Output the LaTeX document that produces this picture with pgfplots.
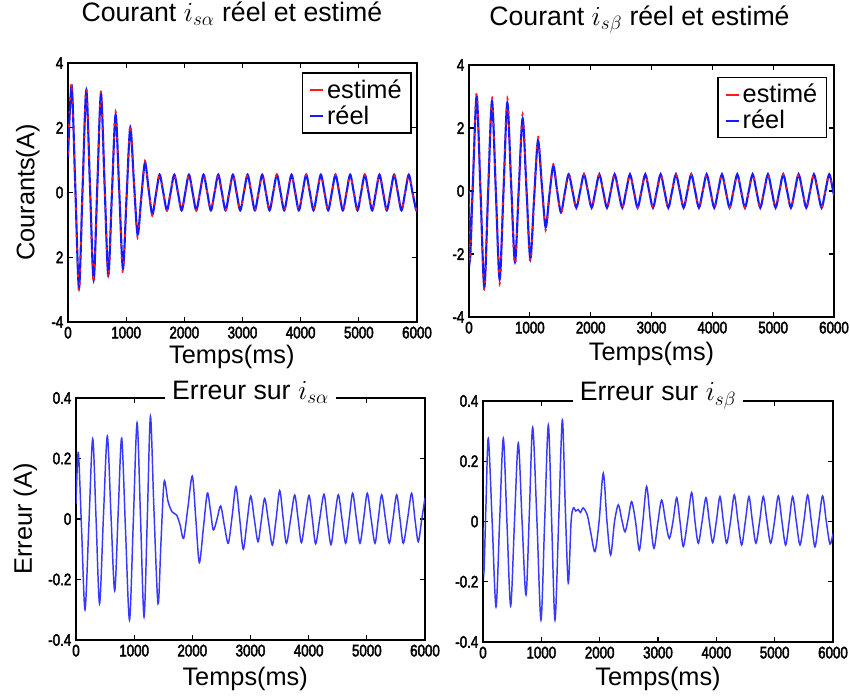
\documentclass[border=0pt]{standalone}
\usepackage{fontspec}
\setmainfont{Liberation Sans}
\newfontfamily\tickfont[FakeStretch=0.8,FakeBold=2.5]{Liberation Sans}
\usepackage{pgfplots}
\pgfplotsset{compat=1.18}
\usepackage{pgfplotstable}

\definecolor{lblue}{rgb}{0.1,0.1,1.0}
\definecolor{bblue}{rgb}{0.22,0.22,1.0}
\definecolor{ered}{rgb}{1.0,0.1,0.1}

\pgfplotstableread[row sep=\\]{
t b r\\
0 1.1 1.2\\ 63 3.3 3.45\\ 126 0.15 0.15\\ 189 -2.95 -3.1\\ 252 0.2 0.2\\ 315 3.15 3.25\\ 378 0.2 0.2\\ 441 -2.7 -2.85\\
504 0.2 0.2\\ 567 3.05 3.15\\ 630 0.2 0.2\\ 693 -2.55 -2.7\\ 756 0 0\\ 819 2.4 2.5\\ 882 0 0\\ 945 -2.35 -2.5\\
1008 -0.1 -0.1\\ 1071 2.0 2.15\\ 1134 0.3 0.3\\ 1197 -1.3 -1.4\\ 1260 -0.15 -0.15\\ 1323 0.92 0.98\\ 1386 0.1 0.1\\ 1449 -0.68 -0.72\\
1512 -0.05 -0.05\\ 1575 0.55 0.56\\ 1638 0 0\\ 1701 -0.55 -0.55\\
1764 0 0\\ 1827 0.55 0.55\\ 1890 0 0\\ 1953 -0.55 -0.55\\ 2016 0 0\\ 2079 0.55 0.55\\ 2142 0 0\\ 2205 -0.55 -0.55\\
2268 0 0\\ 2331 0.55 0.55\\ 2394 0 0\\ 2457 -0.55 -0.55\\ 2520 0 0\\ 2583 0.55 0.55\\ 2646 0 0\\ 2709 -0.55 -0.55\\
2772 0 0\\ 2835 0.55 0.55\\ 2898 0 0\\ 2961 -0.55 -0.55\\ 3024 0 0\\ 3087 0.55 0.55\\ 3150 0 0\\ 3213 -0.55 -0.55\\
3276 0 0\\ 3339 0.55 0.55\\ 3402 0 0\\ 3465 -0.55 -0.55\\ 3528 0 0\\ 3591 0.55 0.55\\ 3654 0 0\\ 3717 -0.55 -0.55\\
3780 0 0\\ 3843 0.55 0.55\\ 3906 0 0\\ 3969 -0.55 -0.55\\ 4032 0 0\\ 4095 0.55 0.55\\ 4158 0 0\\ 4221 -0.55 -0.55\\
4284 0 0\\ 4347 0.55 0.55\\ 4410 0 0\\ 4473 -0.55 -0.55\\ 4536 0 0\\ 4599 0.55 0.55\\ 4662 0 0\\ 4725 -0.55 -0.55\\
4788 0 0\\ 4851 0.55 0.55\\ 4914 0 0\\ 4977 -0.55 -0.55\\ 5040 0 0\\ 5103 0.55 0.55\\ 5166 0 0\\ 5229 -0.55 -0.55\\
5292 0 0\\ 5355 0.55 0.55\\ 5418 0 0\\ 5481 -0.55 -0.55\\ 5544 0 0\\ 5607 0.55 0.55\\ 5670 0 0\\ 5733 -0.55 -0.55\\
5796 0 0\\ 5859 0.55 0.55\\ 5922 0 0\\ 5985 -0.55 -0.55\\ 6000 -0.52 -0.52\\
}\tla

\pgfplotstableread[row sep=\\]{
t b r\\
0 0 0\\ 15 -2.2 -2.3\\ 63 0.2 0.2\\ 126 3.0 3.15\\ 189 0 0\\ 252 -3.05 -3.2\\ 315 0 0\\ 378 2.85 3.0\\
441 0 0\\ 504 -2.8 -2.95\\ 567 0 0\\ 630 2.8 2.95\\ 693 0.2 0.2\\ 756 -2.25 -2.4\\ 819 0.1 0.1\\ 882 2.3 2.45\\
945 0.05 0.05\\ 1008 -2.15 -2.3\\ 1071 -0.2 -0.2\\ 1134 1.6 1.75\\ 1197 0.2 0.2\\ 1260 -1.15 -1.25\\ 1323 -0.1 -0.1\\ 1386 0.8 0.85\\
1449 0 0\\ 1512 -0.68 -0.7\\ 1575 -0.05 -0.05\\ 1638 0.53 0.55\\ 1701 0 0\\
1764 -0.53 -0.53\\ 1827 0 0\\ 1890 0.53 0.53\\ 1953 0 0\\ 2016 -0.53 -0.53\\ 2079 0 0\\ 2142 0.53 0.53\\ 2205 0 0\\
2268 -0.53 -0.53\\ 2331 0 0\\ 2394 0.53 0.53\\ 2457 0 0\\ 2520 -0.53 -0.53\\ 2583 0 0\\ 2646 0.53 0.53\\ 2709 0 0\\
2772 -0.53 -0.53\\ 2835 0 0\\ 2898 0.53 0.53\\ 2961 0 0\\ 3024 -0.53 -0.53\\ 3087 0 0\\ 3150 0.53 0.53\\ 3213 0 0\\
3276 -0.53 -0.53\\ 3339 0 0\\ 3402 0.53 0.53\\ 3465 0 0\\ 3528 -0.53 -0.53\\ 3591 0 0\\ 3654 0.53 0.53\\ 3717 0 0\\
3780 -0.53 -0.53\\ 3843 0 0\\ 3906 0.53 0.53\\ 3969 0 0\\ 4032 -0.53 -0.53\\ 4095 0 0\\ 4158 0.53 0.53\\ 4221 0 0\\
4284 -0.53 -0.53\\ 4347 0 0\\ 4410 0.53 0.53\\ 4473 0 0\\ 4536 -0.53 -0.53\\ 4599 0 0\\ 4662 0.53 0.53\\ 4725 0 0\\
4788 -0.53 -0.53\\ 4851 0 0\\ 4914 0.53 0.53\\ 4977 0 0\\ 5040 -0.53 -0.53\\ 5103 0 0\\ 5166 0.53 0.53\\ 5229 0 0\\
5292 -0.53 -0.53\\ 5355 0 0\\ 5418 0.53 0.53\\ 5481 0 0\\ 5544 -0.53 -0.53\\ 5607 0 0\\ 5670 0.53 0.53\\ 5733 0 0\\
5796 -0.53 -0.53\\ 5859 0 0\\ 5922 0.53 0.53\\ 5985 0 0\\ 6000 -0.13 -0.13\\
}\tlb

\pgfplotsset{
  panel/.style={
    scale only axis, anchor=south west,
    xmin=0, xmax=6000,
    xtick={0,1000,2000,3000,4000,5000,6000},
    xticklabels={0,1000,2000,3000,4000,5000,6000},
    tick align=inside,
    major tick length=4pt,
    tick style={black, line width=0.8pt},
    axis line style={black, line width=1pt},
    tick label style={font=\tickfont\fontsize{12.5}{13}\selectfont},
    label style={font=\fontsize{19}{20}\selectfont},
    xlabel={Temps(ms)},
    title style={font=\fontsize{20}{22}\selectfont},
  },
  toplegend/.style={
    reverse legend,
    legend style={at={(1,1)}, anchor=north east, draw=black, line width=1pt,
      font=\fontsize{19}{19}\selectfont, inner xsep=5pt, inner ysep=3pt, row sep=0pt,
      cells={anchor=west}},
    legend image code/.code={\draw[##1, solid, line width=1.5pt] (0pt,0pt) -- (10pt,0pt);},
  },
}

\begin{document}
\begin{tikzpicture}
\useasboundingbox (0,0) rectangle (637.5pt,525pt);

% Top-left
\begin{axis}[panel, toplegend,
  at={(51pt,283.5pt)}, width=261.75pt, height=194.25pt,
  ymin=-4, ymax=4, ytick={-4,-2,0,2,4}, yticklabels={-4,2,0,2,4},
  ylabel={Courants(A)},
  ylabel style={at={(axis description cs:-0.115,0.5)}, anchor=center},
  xlabel style={at={(axis description cs:0.5,0)}, anchor=center, yshift=-26pt, xshift=-8pt},
  title={Courant $i_{s\alpha}$ réel et estimé},
  title style={at={(0.5,1)}, anchor=base, yshift=25.5pt, xshift=-8pt},
  legend style={xshift=-4pt, yshift=-7pt},
]
\addplot[lblue, line width=1.6pt, smooth] table[x=t, y=b] {\tla};
\addlegendentry{réel}
\addplot[ered, line width=1.3pt, smooth, dash pattern=on 2pt off 8pt] table[x=t, y=r] {\tla};
\addlegendentry{estimé}
\end{axis}

% Top-right
\begin{axis}[panel, toplegend,
  at={(351.75pt,287.25pt)}, width=273.75pt, height=189pt,
  ymin=-4, ymax=4, ytick={-4,-2,0,2,4}, yticklabels={-4,-2,0,2,4},
  xlabel style={at={(axis description cs:0.5,0)}, anchor=center, yshift=-28pt},
  title={Courant $i_{s\beta}$ réel et estimé},
  title style={at={(0.5,1)}, anchor=base, yshift=24pt, xshift=-9pt},
  legend style={xshift=-5pt, yshift=-9pt},
]
\addplot[lblue, line width=1.6pt, smooth] table[x=t, y=b] {\tlb};
\addlegendentry{réel}
\addplot[ered, line width=1.3pt, smooth, dash pattern=on 2pt off 8pt] table[x=t, y=r] {\tlb};
\addlegendentry{estimé}
\end{axis}

% Bottom-left
\begin{axis}[panel,
  at={(57pt,45pt)}, width=261.75pt, height=181.5pt,
  ymin=-0.4, ymax=0.4, ytick={-0.4,-0.2,0,0.2,0.4}, yticklabels={-0.4,-0.2,0,0.2,0.4},
  ylabel={Erreur (A)},
  ylabel style={at={(axis description cs:-0.145,0.5)}, anchor=center},
  xlabel style={at={(axis description cs:0.5,0)}, anchor=center, yshift=-29pt, xshift=-4pt},
  title={Erreur sur $i_{s\alpha}$},
  title style={at={(0.5,1)}, anchor=center, fill=white, inner xsep=5pt, inner ysep=1pt, yshift=-2pt},
]
\addplot[bblue, line width=1.1pt, smooth] coordinates {
(0,0.05)(40,0.22)(97,-0.04)(155,-0.30)(221,-0.02)(287,0.265)(345,0.0)(405,-0.28)(470,0.0)(538,0.274)
(600,0.02)(665,-0.237)(725,0.02)(785,0.267)(850,-0.03)(920,-0.334)(985,-0.01)(1050,0.318)(1110,0.0)(1170,-0.323)
(1227,0.01)(1280,0.34)(1340,0.03)(1410,-0.28)(1460,-0.08)(1515,0.123)(1580,0.06)(1650,0.024)(1730,0.013)(1790,-0.02)
(1850,-0.064)(1925,0.04)(2000,0.142)(2060,0.0)(2120,-0.144)(2190,-0.03)(2257,0.085)(2310,0.03)(2360,-0.036)(2425,0.0)
(2487,0.043)(2550,-0.02)(2618,-0.08)(2685,0.01)(2750,0.107)(2815,0.0)(2876,-0.10)(2940,-0.01)(3003,0.076)(3065,0.0)
(3129,-0.075)(3186,-0.005)(3244,0.068)(3310,-0.01)(3376,-0.086)(3440,0.0)(3502,0.094)(3560,0.005)(3617,-0.08)(3690,0.0)
(3760,0.079)(3818,0.0)(3875,-0.078)(3940,0.0)(4006,0.078)(4063,0.0)(4120,-0.082)(4190,0.0)(4263,0.082)(4320,0.0)
(4383,-0.085)(4445,0.0)(4510,0.08)(4573,0.0)(4636,-0.08)(4696,0.0)(4756,0.085)(4820,0.0)(4882,-0.08)(4945,0.0)
(5008,0.085)(5074,0.0)(5140,-0.08)(5197,0.0)(5255,0.08)(5320,0.0)(5386,-0.08)(5450,0.0)(5513,0.08)(5570,0.0)
(5627,-0.08)(5700,0.0)(5770,0.085)(5827,0.0)(5884,-0.075)(5945,0.0)(6000,0.07)
};
\end{axis}

% Bottom-right
\begin{axis}[panel,
  at={(362.25pt,43.5pt)}, width=262.5pt, height=180.75pt,
  ymin=-0.4, ymax=0.4, ytick={-0.4,-0.2,0,0.2,0.4}, yticklabels={-0.4,-0.2,0,0.2,0.4},
  xlabel style={at={(axis description cs:0.5,0)}, anchor=center, yshift=-28pt},
  title={Erreur sur $i_{s\beta}$},
  title style={at={(0.5,1)}, anchor=center, fill=white, inner xsep=5pt, inner ysep=1pt, yshift=-2pt},
]
\addplot[bblue, line width=1.1pt, smooth] coordinates {
(0,-0.02)(15,-0.17)(50,0.05)(91,0.276)(157,0.0)(223,-0.283)(285,0.0)(348,0.276)(410,0.0)(474,-0.28)
(540,0.0)(605,0.26)(670,0.0)(737,-0.244)(795,0.03)(852,0.313)(925,0.0)(994,-0.327)(1057,0.0)(1120,0.32)
(1177,0.0)(1234,-0.327)(1297,0.0)(1360,0.337)(1410,0.05)(1462,-0.205)(1510,0.0)(1548,0.045)(1590,0.035)(1630,0.04)
(1670,0.03)(1719,0.045)(1790,0.02)(1850,-0.04)(1920,-0.10)(1990,0.0)(2062,0.16)(2125,0.0)(2188,-0.111)(2255,0.0)
(2320,0.055)(2380,0.005)(2434,-0.034)(2490,0.01)(2548,0.066)(2615,0.0)(2679,-0.095)(2740,0.0)(2805,0.116)(2870,0.0)
(2931,-0.089)(3000,0.0)(3063,0.071)(3130,0.0)(3194,-0.056)(3257,0.0)(3320,0.079)(3377,0.0)(3434,-0.083)(3505,0.0)
(3577,0.096)(3634,0.0)(3691,-0.072)(3756,0.0)(3822,0.079)(3880,0.0)(3937,-0.07)(4000,0.0)(4062,0.083)(4120,0.0)
(4177,-0.072)(4243,0.0)(4308,0.088)(4371,0.0)(4434,-0.078)(4497,0.0)(4559,0.083)(4619,0.0)(4679,-0.072)(4742,0.0)
(4805,0.083)(4868,0.0)(4931,-0.072)(4997,0.0)(5062,0.085)(5125,0.0)(5188,-0.078)(5248,0.0)(5308,0.083)(5371,0.0)
(5434,-0.078)(5500,0.0)(5565,0.088)(5628,0.0)(5690,-0.084)(5756,0.0)(5822,0.085)(5885,0.0)(5948,-0.075)(6000,-0.04)
};
\end{axis}
\end{tikzpicture}
\end{document}
